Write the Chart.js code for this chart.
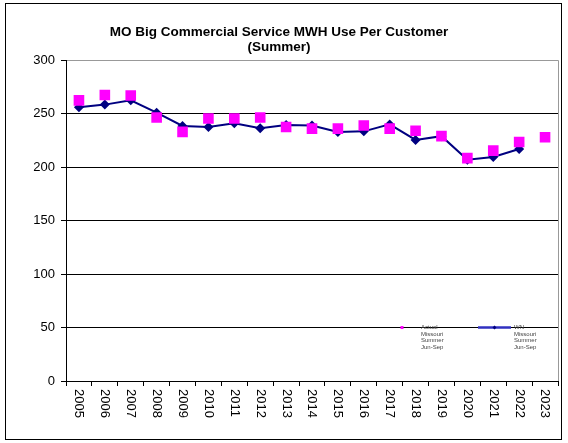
<!DOCTYPE html>
<html>
<head>
<meta charset="utf-8">
<script src="https://cdn.jsdelivr.net/npm/chart.js@4/dist/chart.umd.min.js"></script>
<style>
  html, body { margin: 0; padding: 0; background: #fff; }
  #wrap { width: 568px; height: 443px; }
</style>
</head>
<body>
<div id="wrap"><canvas id="chart" width="568" height="443"></canvas></div>
<script>
const years = ['2005','2006','2007','2008','2009','2010','2011','2012','2013','2014',
               '2015','2016','2017','2018','2019','2020','2021','2022','2023'];
const actualSummer = [262.5, 267.5, 267, 246.5, 233, 245.5, 245.5, 246.5, 237.5, 236,
                      236, 239, 236, 234, 229, 208.5, 215.5, 223.5, 228];
const wnSummer = [256, 258.5, 262.5, 251, 238.5, 237.5, 241, 236.5, 239.5, 239,
                  233, 233.5, 240, 225.5, 229, 207, 209.5, 217, null];
const yTicks = [0, 50, 100, 150, 200, 250, 300];

const FONT = '"Liberation Sans", Arial, sans-serif';

// frame, right plot border, rotated year labels and small in-plot legend
const extras = {
  id: 'extras',
  beforeDraw(c) {
    const ctx = c.ctx;
    ctx.save();
    ctx.fillStyle = '#fff';
    ctx.fillRect(0, 0, c.width, c.height);
    ctx.restore();
  },
  beforeDatasetsDraw(c) {
    const { ctx, chartArea: a } = c;
    ctx.save();
    ctx.strokeStyle = '#999';
    ctx.lineWidth = 1;
    ctx.beginPath();
    ctx.moveTo(a.right + 0.5, a.top);
    ctx.lineTo(a.right + 0.5, a.bottom);
    ctx.stroke();
    ctx.restore();
  },
  afterDraw(c) {
    const { ctx, chartArea: a } = c;
    const x = c.scales.x;
    ctx.save();
    ctx.strokeStyle = '#000';
    ctx.lineWidth = 1;
    ctx.strokeRect(5.5, 3.5, 556, 436);

    // year labels, reading top to bottom
    ctx.fillStyle = '#000';
    ctx.font = '13px ' + FONT;
    ctx.textBaseline = 'middle';
    ctx.textAlign = 'left';
    years.forEach((y, i) => {
      ctx.save();
      ctx.translate(x.getPixelForValue(i), a.bottom + 8);
      ctx.rotate(Math.PI / 2);
      ctx.fillText(y, 0, 0);
      ctx.restore();
    });

    // legend
    const ly = c.scales.y.getPixelForValue(50);
    const ds0 = c.data.datasets[0], ds1 = c.data.datasets[1];
    ctx.font = '6px ' + FONT;
    ctx.textBaseline = 'middle';
    ctx.fillStyle = ds0.pointBackgroundColor;
    ctx.fillRect(400.5, ly - 1.5, 3, 3);
    ctx.fillStyle = '#444';
    ds0.label.split('\n').forEach((t, i) => ctx.fillText(t, 421, ly + i * 6.5));
    ctx.strokeStyle = '#3030c0';
    ctx.lineWidth = 2.5;
    ctx.beginPath();
    ctx.moveTo(478, ly);
    ctx.lineTo(511, ly);
    ctx.stroke();
    ctx.fillStyle = ds1.pointBackgroundColor;
    ctx.beginPath();
    ctx.moveTo(494.5, ly - 2);
    ctx.lineTo(496.5, ly);
    ctx.lineTo(494.5, ly + 2);
    ctx.lineTo(492.5, ly);
    ctx.closePath();
    ctx.fill();
    ctx.fillStyle = '#444';
    ds1.label.split('\n').forEach((t, i) => ctx.fillText(t, 514, ly + i * 6.5));
    ctx.restore();
  }
};

Chart.defaults.font.family = FONT;
Chart.defaults.color = '#000';

new Chart(document.getElementById('chart'), {
  type: 'line',
  data: {
    labels: years,
    datasets: [
      {
        label: 'Actual\nMissouri\nSummer\nJun-Sep',
        data: actualSummer,
        showLine: false,
        pointStyle: 'rect',
        pointRadius: 7.5,
        pointBackgroundColor: '#ff00ff',
        pointBorderColor: '#ff00ff',
        pointBorderWidth: 0
      },
      {
        label: 'WN\nMissouri\nSummer\nJun-Sep',
        data: wnSummer,
        borderColor: '#000080',
        borderWidth: 2,
        tension: 0,
        pointStyle: 'rectRot',
        pointRadius: 5,
        pointBackgroundColor: '#000080',
        pointBorderColor: '#000080',
        pointBorderWidth: 0
      }
    ]
  },
  options: {
    responsive: false,
    animation: false,
    events: [],
    layout: { padding: { left: 0, right: 10, top: 0, bottom: 0 } },
    plugins: {
      legend: { display: false },
      tooltip: { enabled: false },
      title: {
        display: true,
        text: ['MO Big Commercial Service MWH Use Per Customer', '(Summer)'],
        color: '#000',
        font: { size: 13.5, weight: 'bold', family: FONT, lineHeight: 1.12 },
        padding: { top: 25, bottom: 5 }
      }
    },
    scales: {
      x: {
        offset: true,
        grid: { offset: true, drawOnChartArea: false, drawTicks: true, tickLength: 5, color: '#000' },
        border: { color: '#000', width: 1 },
        ticks: { color: 'rgba(0,0,0,0)', maxRotation: 0, autoSkip: false },
        afterFit(s) { s.height = 62; }
      },
      y: {
        min: 0,
        max: 300,
        afterBuildTicks(s) { s.ticks = yTicks.map(v => ({ value: v })); },
        grid: {
          color: ctx => (ctx.tick && ctx.tick.value === 300 ? '#999' : '#000'),
          tickColor: '#000',
          tickLength: 5,
          drawTicks: true
        },
        border: { color: '#000', width: 1 },
        ticks: { font: { size: 13 }, padding: 6 },
        afterFit(s) { s.width = 66; }
      }
    }
  },
  plugins: [extras]
});
</script>
</body>
</html>
